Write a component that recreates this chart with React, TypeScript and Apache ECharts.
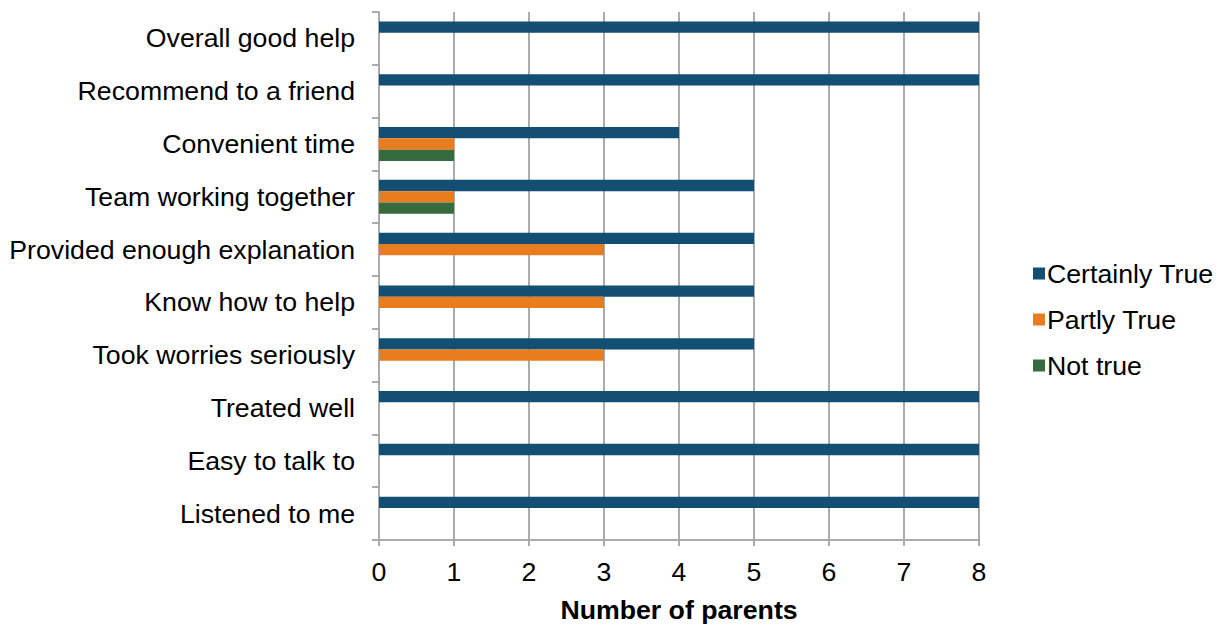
import React, { useEffect, useRef } from "react";
import * as echarts from "echarts";

const categories = [
  "Overall good help",
  "Recommend to a friend",
  "Convenient time",
  "Team working together",
  "Provided enough explanation",
  "Know how to help",
  "Took worries seriously",
  "Treated well",
  "Easy to talk to",
  "Listened to me",
];
const certainlyTrue = [8, 8, 4, 5, 5, 5, 5, 8, 8, 8];
const partlyTrue = [0, 0, 1, 1, 3, 3, 3, 0, 0, 0];
const notTrue = [0, 0, 1, 1, 0, 0, 0, 0, 0, 0];
const xTicks = [0, 1, 2, 3, 4, 5, 6, 7, 8];

const FONT = "'Liberation Sans', Arial, sans-serif";
const FS = 26.7;

export default function App() {
  const ref = useRef<HTMLDivElement>(null);
  useEffect(() => {
    if (!ref.current) return;
    const chart = echarts.init(ref.current, undefined, { renderer: "svg" });
    const gray = "#ABABAB";
    const barW = 11.3;
    chart.setOption({
      animation: false,
      textStyle: { fontFamily: FONT },
      grid: { left: 379, right: 246, top: 12, bottom: 86, containLabel: false },
      legend: {
        orient: "vertical",
        left: 1028,
        top: 255,
        itemWidth: 12,
        itemHeight: 12,
        itemGap: 19,
        icon: "rect",
        textStyle: { fontSize: FS, color: "#000", fontFamily: FONT, padding: [0, 0, 0, -3] },
        data: ["Certainly True", "Partly True", "Not true"],
      },
      xAxis: {
        type: "value",
        min: xTicks[0],
        max: xTicks[xTicks.length - 1],
        interval: 1,
        name: "Number of parents",
        nameLocation: "middle",
        nameGap: 56,
        nameTextStyle: { fontSize: FS, fontWeight: "bold", color: "#000", fontFamily: FONT },
        axisLine: { show: true, lineStyle: { color: gray, width: 2 } },
        axisTick: { show: true, length: 6, lineStyle: { color: gray, width: 2 } },
        axisLabel: { fontSize: FS, color: "#000", margin: 18, fontFamily: FONT },
        splitLine: { show: true, lineStyle: { color: gray, width: 2 } },
      },
      yAxis: {
        type: "category",
        data: categories,
        inverse: true,
        axisLine: { show: true, lineStyle: { color: gray, width: 2 } },
        axisTick: { show: true, length: 7, lineStyle: { color: gray, width: 2 } },
        axisLabel: { fontSize: FS, color: "#000", margin: 24, fontFamily: FONT },
        splitLine: { show: false },
      },
      series: [
        {
          name: "Certainly True",
          type: "bar",
          data: certainlyTrue,
          barWidth: barW,
          barGap: "0%",
          itemStyle: { color: "#124F73" },
        },
        {
          name: "Partly True",
          type: "bar",
          data: partlyTrue,
          barWidth: barW,
          barGap: "0%",
          itemStyle: { color: "#E87D1F" },
        },
        {
          name: "Not true",
          type: "bar",
          data: notTrue,
          barWidth: barW,
          barGap: "0%",
          itemStyle: { color: "#356B3F" },
        },
      ],
    });
    return () => chart.dispose();
  }, []);
  return <div ref={ref} style={{ width: 1225, height: 628, position: "absolute", left: 0, top: 0 }} />;
}
